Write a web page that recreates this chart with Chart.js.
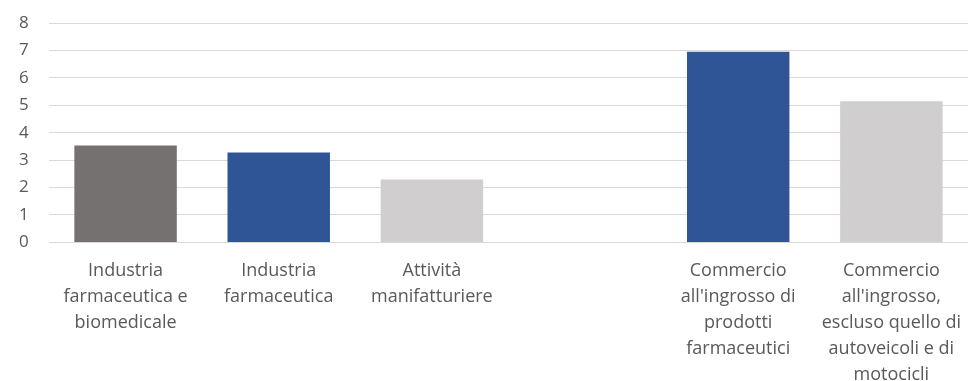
<!DOCTYPE html>
<html>
<head>
<meta charset="utf-8">
<script src="https://cdn.jsdelivr.net/npm/chart.js@4/dist/chart.umd.min.js"></script>
<style>
  html, body { margin: 0; padding: 0; background: #fff; }
  #wrap { width: 969px; height: 381px; }
</style>
</head>
<body>
<div id="wrap"><canvas id="grafico"></canvas></div>
<script>
// Categorie (la quarta è uno spazio vuoto)
const categorie = [
    ['Industria', 'farmaceutica e', 'biomedicale'],
    ['Industria', 'farmaceutica'],
    ['Attività', 'manifatturiere'],
    '',
    ['Commercio', "all'ingrosso di", 'prodotti', 'farmaceutici'],
    ['Commercio', "all'ingrosso,", 'escluso quello di', 'autoveicoli e di', 'motocicli']
];
const valori = [3.53, 3.28, 2.29, null, 6.95, 5.15];
const colori = ['#767171', '#2F5597', '#D0CECE', '#FFFFFF', '#2F5597', '#D0CECE'];
const tickY = [0, 1, 2, 3, 4, 5, 6, 7, 8];

const testo = '#595959';
const griglia = '#D9D9D9';

new Chart(document.getElementById('grafico'), {
    type: 'bar',
    data: {
        labels: categorie,
        datasets: [{
            data: valori,
            backgroundColor: colori,
            borderWidth: 0,
            barPercentage: 1,
            categoryPercentage: 0.669
        }]
    },
    options: {
        responsive: true,
        maintainAspectRatio: false,
        animation: false,
        layout: { padding: { top: 23, right: -4, left: 19, bottom: -15 } },
        plugins: {
            legend: { display: false },
            tooltip: { enabled: false }
        },
        scales: {
            x: {
                grid: { display: false },
                border: { display: false },
                ticks: {
                    color: testo,
                    font: { family: 'Open Sans', size: 18, lineHeight: 1.44 },
                    maxRotation: 0,
                    autoSkip: false,
                    padding: 8
                }
            },
            y: {
                min: 0,
                max: 8,
                afterBuildTicks: (asse) => { asse.ticks = tickY.map(v => ({ value: v })); },
                afterFit: (asse) => { asse.width = 30; },
                grid: { color: griglia, lineWidth: 1, drawTicks: false },
                border: { display: false },
                ticks: {
                    color: testo,
                    font: { family: 'Open Sans', size: 17 },
                    padding: 0,
                    crossAlign: 'far'
                }
            }
        }
    }
});
</script>
</body>
</html>
